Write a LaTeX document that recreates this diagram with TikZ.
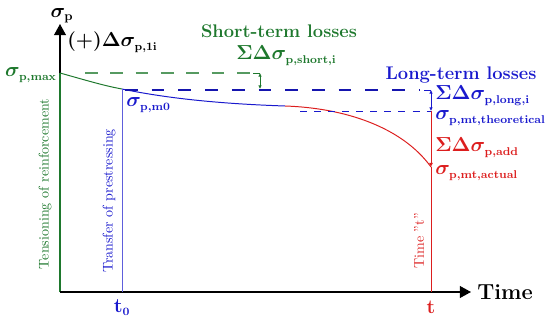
\documentclass[tikz,border=0pt]{standalone}
\usepackage{xcolor}
\usepackage{amsmath}
\usepackage{amssymb}
\usepackage{tikz}
\usetikzlibrary{positioning, arrows.meta, calc}

\definecolor{vertperte}{RGB}{30,120,45}
\definecolor{bleuperte}{RGB}{25,25,205}
\definecolor{rougeperte}{RGB}{220,30,30}
\DeclareMathSizes{14}{14}{8.5}{6}
\DeclareMathSizes{15}{15}{9.5}{7}

\tikzset{
    axe/.style={line width=1pt, -{Triangle[length=8pt,width=8.5pt]}},
    cote/.style={line width=0.6pt, {Latex[length=2.5pt,width=2.5pt]}-{Latex[length=2.5pt,width=2.5pt]}},
    fleche/.style={line width=0.7pt, -{Latex[length=3pt,width=3pt]}},
    trait/.style={line width=0.7pt},
    tiret/.style={line width=0.9pt},
    etiq/.style={inner sep=0pt, font=\fontsize{14}{16}\selectfont\bfseries\boldmath},
    titre/.style={inner sep=0pt, font=\fontsize{13}{15}\selectfont\bfseries},
    vertical/.style={inner sep=0pt, rotate=90, font=\fontsize{10}{12}\selectfont}
}

\begin{document}
\begin{tikzpicture}[x=0.025cm, y=-0.025cm]
    \useasboundingbox (0,0) rectangle (550,320);

    % Points
    \coordinate (origine) at (60,292);
    \coordinate (yfin) at (60,24);
    \coordinate (xfin) at (471,292);
    \coordinate (pmax) at (60,73);
    \coordinate (pm0) at (122,89);
    \coordinate (pdev) at (285,106);
    \coordinate (ptop) at (431,90);
    \coordinate (ptheo) at (431,111);
    \coordinate (pact) at (431,167);
    \coordinate (pcote) at (260,73);
    \coordinate (pcotebas) at (260,89);
    \coordinate (t0pied) at (122,292);
    \coordinate (tpied) at (431,292);

    % Axes
    \draw[trait, vertperte, line width=0.8pt] (origine) -- (pmax);
    \draw[axe] (pmax) -- (yfin);
    \draw[axe] (origine) -- (xfin);

    % Courbe
    \draw[trait, vertperte] (pmax) .. controls (85,80) and (105,86) .. (pm0);
    \draw[trait, bleuperte] (pm0) .. controls (170,99) and (225,104) .. (pdev);
    \draw[trait, rougeperte] (pdev) .. controls (345,108) and (402,127) .. (pact);

    % Lignes verticales
    \draw[trait, bleuperte!70] (pm0) -- (t0pied);
    \draw[trait, rougeperte] (pact) -- (tpied);

    % Pertes
    \draw[tiret, vertperte!75, dash pattern=on 9pt off 9pt] (85,73) -- (250,73);
    \draw[trait, vertperte] (253,73) -- (pcote);
    \draw[cote, vertperte] (pcote) -- (pcotebas);
    \draw[tiret, bleuperte!85!black, dash pattern=on 9pt off 10pt] (125,90) -- (420,90);
    \draw[trait, bleuperte] (424,90) -- (ptop);
    \draw[cote, bleuperte] (ptop) -- (ptheo);
    \draw[trait, bleuperte, dash pattern=on 5pt off 5pt] (300,111) -- (ptheo);
    \draw[fleche, rougeperte] (ptheo) -- (pact);

    % Etiquettes
    \node[etiq, font=\fontsize{15}{17}\selectfont\bfseries\boldmath] (sigmap) at (62,16) {$\sigma_{\mathrm{p}}$};
    \node[etiq, anchor=base west] (delta1) at (67,47) {(+)$\Delta\sigma_{\mathrm{p,1i}}$};
    \node[etiq, vertperte, anchor=base east] (lmax) at (57,77) {$\sigma_{\mathrm{p,max}}$};
    \node[titre, vertperte] (court) at (279,31) {Short-term losses};
    \node[etiq, vertperte, anchor=base west] (sumcourt) at (236,60) {$\Sigma\Delta\sigma_{\mathrm{p,short,i}}$};
    \node[titre, bleuperte] (long) at (461,75) {Long-term losses};
    \node[etiq, bleuperte, anchor=base west] (lm0) at (126,107) {$\sigma_{\mathrm{p,m0}}$};
    \node[etiq, bleuperte, anchor=base west] (sumlong) at (435,100) {$\Sigma\Delta\sigma_{\mathrm{p,long,i}}$};
    \node[etiq, bleuperte, anchor=base west] (ltheo) at (435,120) {$\sigma_{\mathrm{p,mt,theoretical}}$};
    \node[etiq, rougeperte, anchor=base west] (sumadd) at (435,152) {$\Sigma\Delta\sigma_{\mathrm{p,add}}$};
    \node[etiq, rougeperte, anchor=base west] (lact) at (435,175) {$\sigma_{\mathrm{p,mt,actual}}$};
    \node[etiq, bleuperte] (t0) at (122,308) {$\mathrm{t}_0$};
    \node[etiq, rougeperte] (t) at (431,307) {t};
    \node[titre, font=\fontsize{15.5}{18}\selectfont\bfseries, anchor=west] (temps) at (477,292) {Time};
    \node[vertical, vertperte] (tension) at (45,184) {Tensioning of reinforcement};
    \node[vertical, bleuperte] (transfert) at (109,201) {Transfer of prestressing};
    \node[vertical, rougeperte] (tempst) at (419,241) {Time "t"};
\end{tikzpicture}
\end{document}
